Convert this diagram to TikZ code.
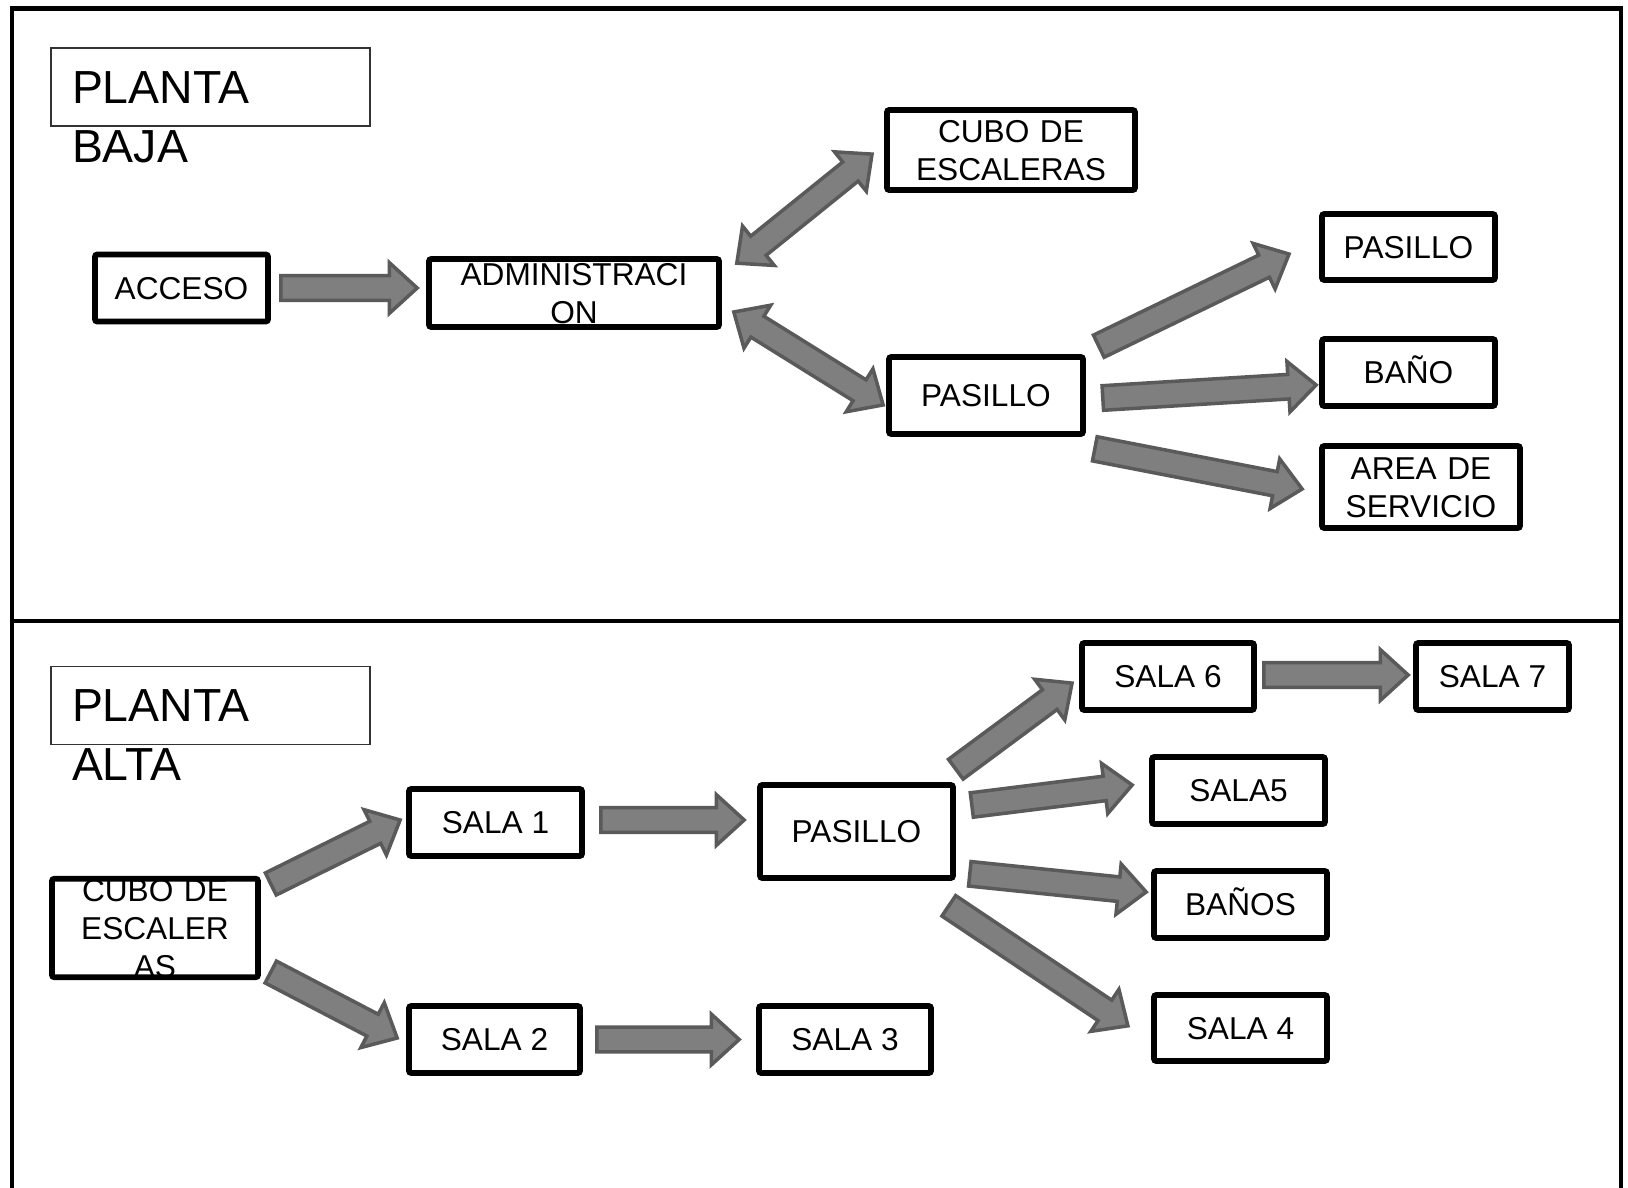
\documentclass[tikz,border=0pt]{standalone}
\usepackage{fontspec}
\setmainfont{Liberation Sans}
\usepackage{tikz}
\usetikzlibrary{calc}

\definecolor{relleno}{HTML}{7F7F7F}
\definecolor{borde}{HTML}{5A5A5A}
\newcommand{\astil}{3.5pt}
\newcommand{\apunta}{7.2pt}
\newcommand{\lpunta}{7.9pt}

\begin{document}
\begin{tikzpicture}
  [
    x=0.1mm, y=-0.1mm,
    caja/.style={rectangle,draw=black,line width=1.6pt,rounded corners=0.6pt,inner sep=0pt,align=center,font=\fontsize{9}{10.8}\selectfont,text height=6.4pt,text depth=0pt},
    sala/.style={caja,minimum width=17.3mm,minimum height=6.7mm},
    titulo/.style={rectangle,draw=black!80,line width=0.4pt,inner xsep=5.97pt,inner ysep=0pt,align=left,text width=78.8pt,text height=15.65pt,text depth=6.54pt,font=\fontsize{13.2}{16.8}\selectfont},
    eje/.style={shift={(\p1)},rotate=\n1},
    flecha/.style={draw=borde,fill=relleno,line width=1pt,
      to path={let \p1=(\tikztostart), \p2=(\tikztotarget), \n1={atan2(\y2-\y1,\x2-\x1)}, \n2={veclen(\x2-\x1,\y2-\y1)} in
        ([eje]0pt,-\astil) -- ([eje]\n2-\lpunta,-\astil) -- ([eje]\n2-\lpunta,-\apunta) -- ([eje]\n2,0pt)
        -- ([eje]\n2-\lpunta,\apunta) -- ([eje]\n2-\lpunta,\astil) -- ([eje]0pt,\astil) -- cycle}},
    dflecha/.style={draw=borde,fill=relleno,line width=1pt,
      to path={let \p1=(\tikztostart), \p2=(\tikztotarget), \n1={atan2(\y2-\y1,\x2-\x1)}, \n2={veclen(\x2-\x1,\y2-\y1)} in
        ([eje]0pt,0pt) -- ([eje]\lpunta,\apunta) -- ([eje]\lpunta,\astil) -- ([eje]\n2-\lpunta,\astil) -- ([eje]\n2-\lpunta,\apunta)
        -- ([eje]\n2,0pt) -- ([eje]\n2-\lpunta,-\apunta) -- ([eje]\n2-\lpunta,-\astil) -- ([eje]\lpunta,-\astil) -- ([eje]\lpunta,-\apunta) -- cycle}}
  ]
  \useasboundingbox (0,0) rectangle (1628,1188);
  \draw[line width=1.15pt] (12,1188) -- (12,8.5) -- (1621,8.5) -- (1621,1188);
  \draw[line width=0.9pt] (12,621) -- (1621,621);

  \node[titulo] at (210.5,87) (pb) {PLANTA\\BAJA};
  \node[sala] at (181.5,288) (acc) {ACCESO};
  \node[caja,minimum width=29mm,minimum height=6.8mm,text width=29mm,text depth=10.8pt] at (574,293) (adm) {ADMINISTRACI\\ON};
  \node[caja,minimum width=24.8mm,minimum height=8mm,text width=24.8mm,text depth=10.8pt] at (1011,150) (cubo1) {CUBO DE\\ESCALERAS};
  \node[caja,minimum width=19.4mm,minimum height=7.7mm] at (986,395.5) (pas1) {PASILLO};
  \node[sala,minimum height=6.6mm] at (1408.5,247) (pas2) {PASILLO};
  \node[sala] at (1408.5,372.5) (bano) {BAÑO};
  \node[caja,minimum width=19.8mm,minimum height=8.2mm,text width=19.8mm,text depth=10.8pt] at (1421,487) (area) {AREA DE\\SERVICIO};

  \node[titulo] at (210.5,705.5) (pa) {PLANTA\\ALTA};
  \node[caja,minimum width=20.6mm,minimum height=9.8mm,text width=20.6mm,text depth=21.6pt] at (155,928) (cubo2) {CUBO DE\\ESCALER\\AS};
  \node[sala] at (495.5,822.5) (s1) {SALA 1};
  \node[sala,minimum width=17.1mm] at (494.5,1039.5) (s2) {SALA 2};
  \node[caja,minimum width=19.3mm,minimum height=9.3mm] at (856.5,831.5) (pas3) {PASILLO};
  \node[sala,minimum width=17.2mm] at (845,1039.5) (s3) {SALA 3};
  \node[sala,minimum width=17.2mm] at (1168,676.5) (s6) {SALA 6};
  \node[sala,minimum width=15.3mm] at (1492.5,676.5) (s7) {SALA 7};
  \node[sala] at (1238.5,790.5) (s5) {SALA5};
  \node[sala] at (1240.5,904.5) (banos) {BAÑOS};
  \node[sala,minimum height=6.6mm] at (1240.5,1028) (s4) {SALA 4};

  \draw[flecha] ([shift={(10,0)}]acc.east) to ([shift={(-9,-5)}]adm.west);
  \draw[dflecha] ([shift={(15,7)}]adm.north east) to ([shift={(-12,4)}]cubo1.west);
  \draw[dflecha] ([shift={(12,19)}]adm.east) to ([shift={(-3,9.5)}]pas1.west);
  \draw[flecha] ([shift={(13,-8)}]pas1.north east) to ([shift={(-30,7)}]pas2.west);
  \draw[flecha] ([shift={(17,2.5)}]pas1.east) to ([shift={(-3,12.5)}]bano.west);
  \draw[flecha] ([shift={(9,12)}]pas1.south east) to ([shift={(-17,2)}]area.west);

  \draw[flecha] ([shift={(10,8)}]cubo2.north east) to ([shift={(-6,-2.5)}]s1.west);
  \draw[flecha] ([shift={(10,-8)}]cubo2.south east) to ([shift={(-9,-1.5)}]s2.west);
  \draw[flecha] ([shift={(16,-2.5)}]s1.east) to ([shift={(-13,-11.5)}]pas3.west);
  \draw[flecha] ([shift={(14,0)}]s2.east) to ([shift={(-17,0)}]s3.west);
  \draw[flecha] ([shift={(0,-13)}]pas3.north east) to ([shift={(-7,6.5)}]s6.west);
  \draw[flecha] ([shift={(16,-26.5)}]pas3.east) to ([shift={(-17,-5.5)}]s5.west);
  \draw[flecha] ([shift={(14,-7)}]pas3.south east) to ([shift={(-5,-12.5)}]banos.west);
  \draw[flecha] ([shift={(-7,25)}]pas3.south east) to ([shift={(-23,-2)}]s4.west);
  \draw[flecha] ([shift={(7,-1.5)}]s6.east) to ([shift={(-5,-1.5)}]s7.west);
\end{tikzpicture}
\end{document}
